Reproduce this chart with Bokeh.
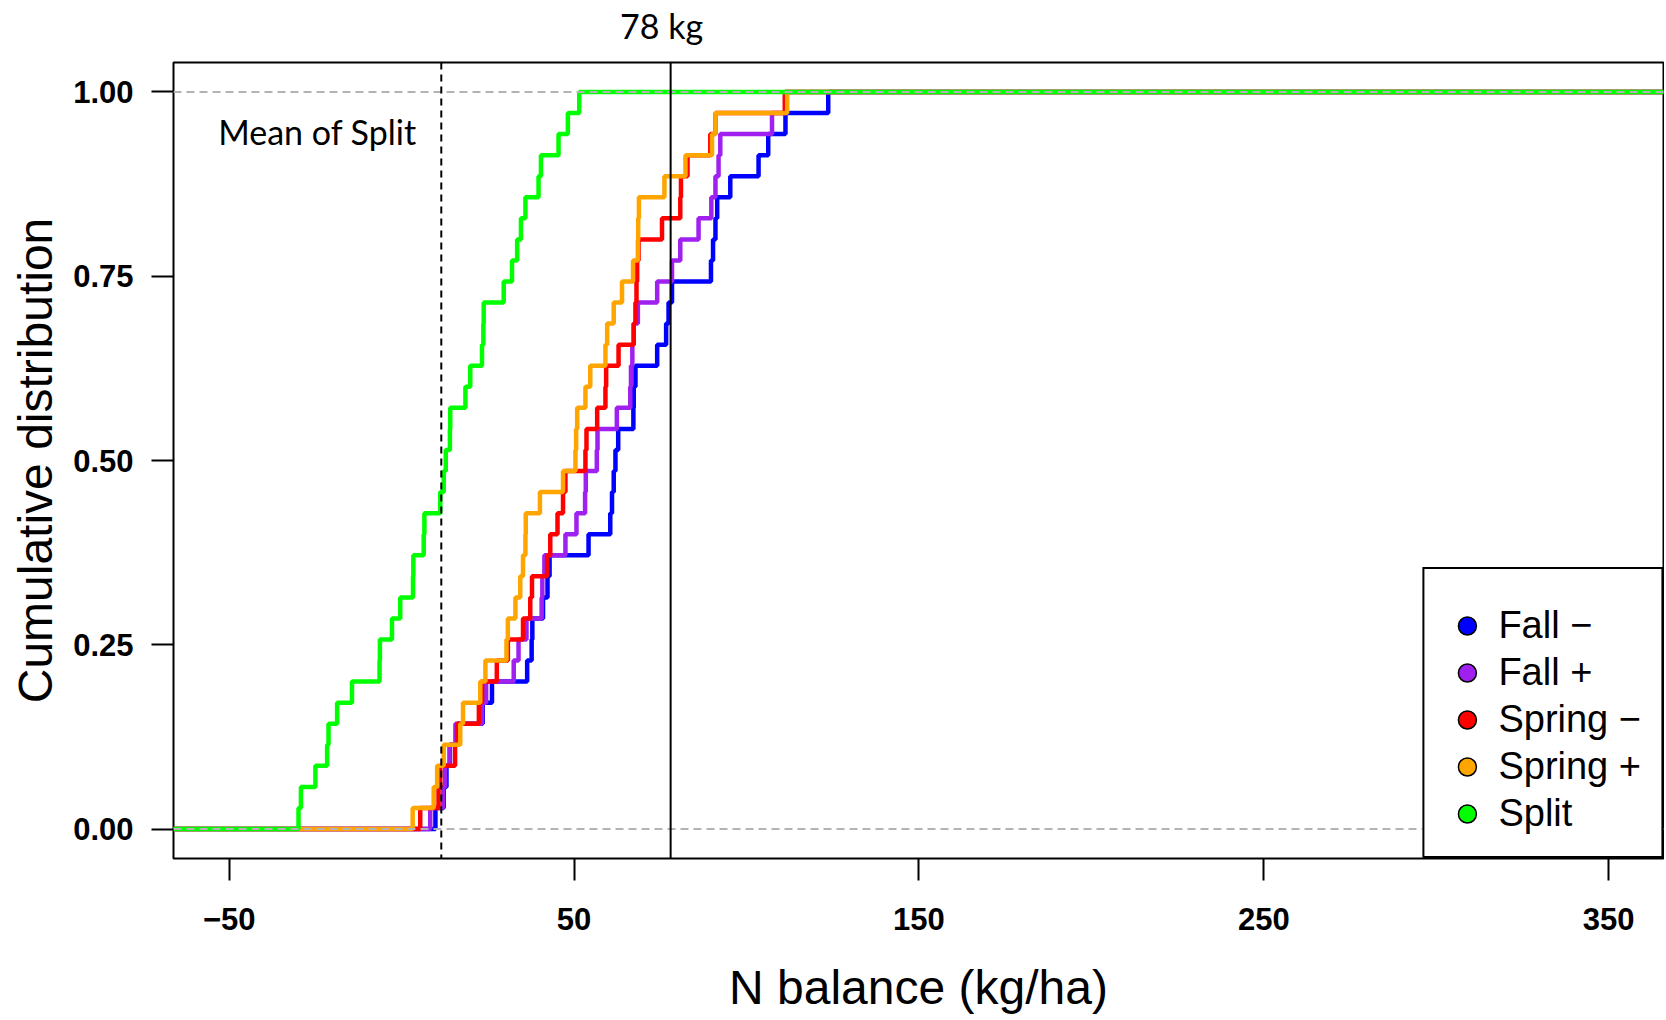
import numpy as np
from bokeh.plotting import figure
from bokeh.models import (Range1d, Span, Label, Legend, LegendItem, FixedTicker,
                          NumeralTickFormatter, LinearAxis)
from bokeh.embed import file_html
from bokeh.resources import INLINE

# ---- data ----
fall_minus = [9.8, 12.2, 13.0, 14.0, 16.5, 23.5, 26.2, 36.4, 37.7, 37.9, 41.0, 42.3, 42.9, 54.2,
              60.5, 61.0, 61.5, 62.0, 62.8, 67.2, 67.3, 67.8, 74.1, 76.7, 77.4, 78.4, 89.7, 90.3,
              91.0, 91.5, 95.3, 103.5, 106.3, 111.3, 123.7]
fall_plus = [8.3, 12.0, 12.6, 13.9, 15.6, 23.3, 24.5, 32.5, 33.9, 36.2, 40.6, 40.8, 41.4, 47.5,
             50.7, 53.2, 53.4, 56.6, 56.8, 62.4, 66.3, 66.5, 66.9, 67.3, 68.5, 74.1, 78.4, 80.8,
             86.1, 89.8, 91.0, 91.9, 92.4, 107.4, 111.3]
spring_minus = [5.4, 10.7, 11.2, 15.5, 16.1, 22.4, 23.3, 27.6, 30.8, 35.2, 37.3, 37.8, 42.2, 43.1,
                45.2, 46.8, 47.5, 53.3, 53.6, 56.7, 59.1, 59.3, 62.9, 67.3, 67.8, 68.1, 68.3, 68.7,
                75.5, 80.8, 81.0, 82.9, 89.5, 91.0, 111.1]
spring_plus = [3.2, 9.3, 10.3, 12.2, 17.0, 17.8, 22.8, 24.3, 30.4, 30.8, 33.0, 34.4, 35.2, 35.9,
               36.0, 40.1, 46.8, 50.4, 50.6, 50.9, 53.3, 54.7, 59.1, 59.6, 61.5, 63.9, 67.1, 68.5,
               68.6, 68.8, 76.2, 82.3, 90.0, 91.0, 111.8]
split = [-29.9, -29.2, -25.0, -21.6, -21.2, -18.7, -14.4, -6.4, -6.3, -2.8, -0.4, 3.3, 3.4, 6.4,
         6.6, 11.2, 12.2, 12.8, 14.0, 14.1, 18.5, 19.9, 23.3, 23.7, 23.8, 29.6, 32.0, 33.5, 34.6,
         35.9, 39.7, 40.4, 45.5, 48.2, 51.5]

series_names = ["Fall \u2212", "Fall +", "Spring \u2212", "Spring +", "Split"]
series_values = [fall_minus, fall_plus, spring_minus, spring_plus, split]
series_colors = ["#0000FF", "#A020F0", "#FF0000", "#FFA500", "#00FF00"]

x_ticks = [-50, 50, 150, 250, 350]
y_ticks = [0.0, 0.25, 0.5, 0.75, 1.0]
threshold_kg = 78
threshold_label = "78 kg"
threshold_label_x = 75.4
mean_split = 11.5

X_LO, X_HI = -66.15, 365.9
Y_LO, Y_HI = -0.04, 1.04

p = figure(width=1664, height=1016, output_backend="svg", toolbar_location=None,
           x_range=Range1d(X_LO, X_HI), y_range=Range1d(Y_LO, Y_HI),
           min_border_left=173, min_border_right=1, min_border_top=62, min_border_bottom=158)
p.background_fill_color = "white"
p.border_fill_color = "white"
p.outline_line_color = "black"
p.outline_line_width = 2
p.xgrid.visible = False
p.ygrid.visible = False

# ECDF step curves
for vals, col in zip(series_values, series_colors):
    v = sorted(vals)
    n = len(v)
    xs = [X_LO] + v + [X_HI]
    ys = [0.0] + [(k + 1) / n for k in range(n)] + [1.0]
    p.step(xs, ys, mode="after", line_color=col, line_width=4.5)

# reference lines
p.add_layout(Span(location=0, dimension="width", line_color="#B3B3B3", line_width=2, line_dash="8 5"))
p.add_layout(Span(location=1, dimension="width", line_color="#B3B3B3", line_width=2, line_dash="8 5"))
p.add_layout(Span(location=mean_split, dimension="height", line_color="black", line_width=2, line_dash="7 5"))
p.add_layout(Span(location=threshold_kg, dimension="height", line_color="black", line_width=2))

p.add_layout(Label(x=-53.2, y=0.946, text="Mean of Split", text_align="left", text_baseline="middle",
                   text_font="Lato", text_font_size="34px", text_color="black"))

# axes (bottom and left)
xax = p.below[0]
yax = p.left[0]
for ax in (xax, yax):
    ax.axis_line_color = None
    ax.major_tick_out = 22
    ax.major_tick_in = 0
    ax.minor_tick_out = 0
    ax.minor_tick_in = 0
    ax.major_tick_line_width = 2
    ax.major_tick_line_color = "black"
    ax.major_label_text_font = "Liberation Sans"
    ax.major_label_text_font_style = "bold"
    ax.major_label_text_font_size = "31px"
    ax.major_label_text_color = "black"
    ax.axis_label_text_font = "Liberation Sans"
    ax.axis_label_text_font_style = "normal"
    ax.axis_label_text_font_size = "48px"
    ax.axis_label_text_color = "black"

xax.ticker = FixedTicker(ticks=x_ticks)
xax.major_label_overrides = {t: (str(t).replace("-", "\u2212")) for t in x_ticks}
xax.major_label_standoff = 27
xax.axis_label = "N balance (kg/ha)"
xax.axis_label_standoff = 28

yax.ticker = FixedTicker(ticks=y_ticks)
yax.formatter = NumeralTickFormatter(format="0.00")
yax.major_label_standoff = 18
yax.axis_label = "Cumulative distribution"
yax.axis_label_standoff = 8

# "78 kg" annotation above the frame, placed as a top axis label
top_axis = LinearAxis(ticker=FixedTicker(ticks=[threshold_label_x]),
                      major_label_overrides={threshold_label_x: threshold_label})
top_axis.axis_line_color = None
top_axis.major_tick_line_color = None
top_axis.major_tick_out = 0
top_axis.major_tick_in = 0
top_axis.minor_tick_line_color = None
top_axis.minor_tick_out = 0
top_axis.minor_tick_in = 0
top_axis.major_label_standoff = 17
top_axis.major_label_text_font = "Lato"
top_axis.major_label_text_font_style = "normal"
top_axis.major_label_text_font_size = "34px"
top_axis.major_label_text_color = "black"
p.add_layout(top_axis, "above")

# legend with circle keys
items = []
for name, col in zip(series_names, series_colors):
    r = p.scatter(x=np.array([np.nan]), y=np.array([np.nan]), marker="circle", size=18,
                  fill_color=col, line_color="black", line_width=1.5)
    items.append(LegendItem(label=name, renderers=[r]))
legend = Legend(items=items, location="bottom_right", margin=0, padding=20, spacing=2,
                glyph_width=45, glyph_height=45, label_standoff=9,
                label_text_font="Liberation Sans", label_text_font_size="38px",
                label_text_color="black",
                title=" ", title_text_font_size="12px", title_standoff=0,
                border_line_color="black", border_line_width=2, border_line_alpha=1.0,
                background_fill_color="white", background_fill_alpha=1.0)
p.add_layout(legend)

open("out.html", "w").write(file_html(p, INLINE))
